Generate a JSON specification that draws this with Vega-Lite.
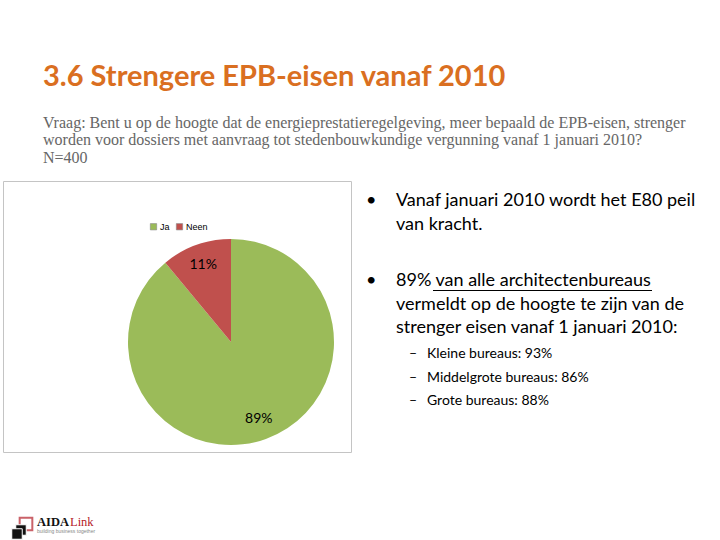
{
  "$schema": "https://vega.github.io/schema/vega-lite/v6.json",
  "background": "white",
  "padding": {"left": 2, "top": 62, "right": 0, "bottom": 0},
  "title": {
    "text": "3.6 Strengere EPB-eisen vanaf 2010",
    "subtitle": [
      "Vraag: Bent u op de hoogte dat de energieprestatieregelgeving, meer bepaald de EPB-eisen, strenger",
      "worden voor dossiers met aanvraag tot stedenbouwkundige vergunning vanaf 1 januari 2010?",
      "N=400"
    ],
    "anchor": "start",
    "frame": "group",
    "dx": 40,
    "font": "Lato",
    "fontSize": 29,
    "fontWeight": "bold",
    "color": "#DA6F21",
    "subtitleFont": "Liberation Serif",
    "subtitleFontSize": 16,
    "subtitleColor": "#666666",
    "subtitleLineHeight": 17.5,
    "subtitlePadding": 23,
    "offset": 15
  },
  "config": {"view": {"stroke": null}},
  "resolve": {"scale": {"color": "independent", "x": "independent", "y": "independent"}, "legend": {"color": "independent"}},
  "spacing": 60,
  "vconcat": [
    {
      "spacing": 9,
      "resolve": {"scale": {"color": "independent", "x": "independent", "y": "independent"}},
      "hconcat": [
        {
          "width": 348,
          "height": 271,
          "view": {"stroke": "#c4c4c4", "strokeWidth": 1},
          "data": {"values": [
            {"answer": "Ja", "pct": 89, "label": "89%", "order": 1},
            {"answer": "Neen", "pct": 11, "label": "11%", "order": 2}
          ]},
          "encoding": {
            "theta": {"field": "pct", "type": "quantitative", "stack": true},
            "order": {"field": "order", "type": "quantitative"}
          },
          "layer": [
            {
              "mark": {"type": "arc", "radius": 103, "x": 228, "y": 161},
              "encoding": {
                "color": {
                  "field": "answer", "type": "nominal",
                  "scale": {"domain": ["Ja", "Neen"], "range": ["#9BBB59", "#C0504D"]},
                  "legend": {
                    "orient": "none", "legendX": 146, "legendY": 41, "direction": "horizontal",
                    "title": null, "symbolType": "square", "symbolSize": 40,
                    "symbolStrokeColor": "#888888", "symbolStrokeWidth": 0.6,
                    "labelFontSize": 9, "labelFont": "Liberation Sans", "labelColor": "#000000",
                    "columnPadding": 5, "labelOffset": 2
                  }
                }
              }
            },
            {
              "mark": {"type": "text", "radius": 82, "x": 228, "y": 161, "font": "Lato", "fontSize": 14, "color": "#000000"},
              "encoding": {"text": {"field": "label"}}
            }
          ]
        },
        {
          "width": 360,
          "height": 271,
          "data": {"values": [
            {"line": 1, "para": 1, "level": 1, "bullet": "•", "text": "Vanaf januari 2010 wordt het E80 peil"},
            {"line": 2, "para": 1, "level": 1, "bullet": "", "text": "van kracht."},
            {"line": 3, "para": 2, "level": 1, "bullet": "•", "text": "89% van alle architectenbureaus"},
            {"line": 4, "para": 2, "level": 1, "bullet": "", "text": "vermeldt op de hoogte te zijn van de"},
            {"line": 5, "para": 2, "level": 1, "bullet": "", "text": "strenger eisen vanaf 1 januari 2010:"},
            {"line": 6, "para": 3, "level": 2, "bullet": "–", "text": "Kleine bureaus: 93%"},
            {"line": 7, "para": 3, "level": 2, "bullet": "–", "text": "Middelgrote bureaus: 86%"},
            {"line": 8, "para": 3, "level": 2, "bullet": "–", "text": "Grote bureaus: 88%"}
          ]},
          "encoding": {
            "y": {"field": "line", "type": "quantitative", "scale": {"domain": [1, 11.68], "range": [20, 271], "zero": false, "nice": false}, "axis": null},
            "x": {"field": "level", "type": "quantitative", "scale": {"domain": [1, 2], "range": [35, 66], "zero": false, "nice": false}, "axis": null}
          },
          "layer": [
            {
              "transform": [{"filter": "datum.para == 1"}],
              "mark": {"type": "text", "align": "left", "baseline": "middle", "font": "Lato", "fontSize": 18, "color": "#000000"},
              "encoding": {"text": {"field": "text"}}
            },
            {
              "transform": [{"filter": "datum.para == 1"}],
              "mark": {"type": "text", "align": "left", "baseline": "middle", "font": "Lato", "fontSize": 18, "color": "#000000", "dx": -30},
              "encoding": {"text": {"field": "bullet"}}
            },
            {
              "transform": [{"filter": "datum.para == 2"}],
              "mark": {"type": "text", "align": "left", "baseline": "middle", "font": "Lato", "fontSize": 18, "color": "#000000", "dy": 33},
              "encoding": {"text": {"field": "text"}}
            },
            {
              "transform": [{"filter": "datum.para == 2"}],
              "mark": {"type": "text", "align": "left", "baseline": "middle", "font": "Lato", "fontSize": 18, "color": "#000000", "dx": -30, "dy": 33},
              "encoding": {"text": {"field": "bullet"}}
            },
            {
              "transform": [{"filter": "datum.line == 3"}],
              "mark": {"type": "rule", "color": "#000000", "strokeWidth": 1.2},
              "encoding": {
                "x": {"value": 72},
                "x2": {"value": 291},
                "y": {"value": 109.5},
                "y2": {"value": 109.5}
              }
            },
            {
              "transform": [{"filter": "datum.para == 3"}],
              "mark": {"type": "text", "align": "left", "baseline": "middle", "font": "Lato", "fontSize": 14, "color": "#000000", "dy": 35.5},
              "encoding": {"text": {"field": "text"}}
            },
            {
              "transform": [{"filter": "datum.para == 3"}],
              "mark": {"type": "text", "align": "left", "baseline": "middle", "font": "Lato", "fontSize": 14, "color": "#000000", "dx": -18, "dy": 35.5},
              "encoding": {"text": {"field": "bullet"}}
            }
          ]
        }
      ]
    },
    {
      "width": 110,
      "height": 26,
      "data": {"values": [
        {"word": "AIDA", "part": "name1"},
        {"word": "Link", "part": "name2"},
        {"word": "building business together", "part": "tag"}
      ]},
      "layer": [
        {
          "transform": [{"filter": "datum.part == 'name1'"}],
          "mark": {"type": "text", "align": "left", "baseline": "middle", "font": "Liberation Serif", "fontSize": 12.5, "fontWeight": "bold", "color": "#111111", "x": 34, "y": 6},
          "encoding": {"text": {"field": "word"}}
        },
        {
          "transform": [{"filter": "datum.part == 'name2'"}],
          "mark": {"type": "text", "align": "left", "baseline": "middle", "font": "Liberation Serif", "fontSize": 12.5, "color": "#B5202A", "x": 67, "y": 6},
          "encoding": {"text": {"field": "word"}}
        },
        {
          "transform": [{"filter": "datum.part == 'tag'"}],
          "mark": {"type": "text", "align": "left", "baseline": "middle", "font": "Liberation Sans", "fontSize": 5, "color": "#888888", "x": 34, "y": 15},
          "encoding": {"text": {"field": "word"}}
        },
        {
          "transform": [{"filter": "datum.part == 'tag'"}],
          "mark": {"type": "point", "shape": "square", "size": 160, "filled": false, "stroke": "#B5202A", "strokeWidth": 2, "x": 23, "y": 8}
        },
        {
          "transform": [{"filter": "datum.part == 'tag'"}],
          "mark": {"type": "point", "shape": "square", "size": 110, "filled": true, "fill": "#111111", "stroke": "white", "strokeWidth": 1, "opacity": 1, "x": 18, "y": 14}
        },
        {
          "transform": [{"filter": "datum.part == 'tag'"}],
          "mark": {"type": "point", "shape": "square", "size": 110, "filled": true, "fill": "#111111", "stroke": "white", "strokeWidth": 1, "opacity": 1, "x": 14, "y": 18}
        }
      ]
    }
  ]
}
